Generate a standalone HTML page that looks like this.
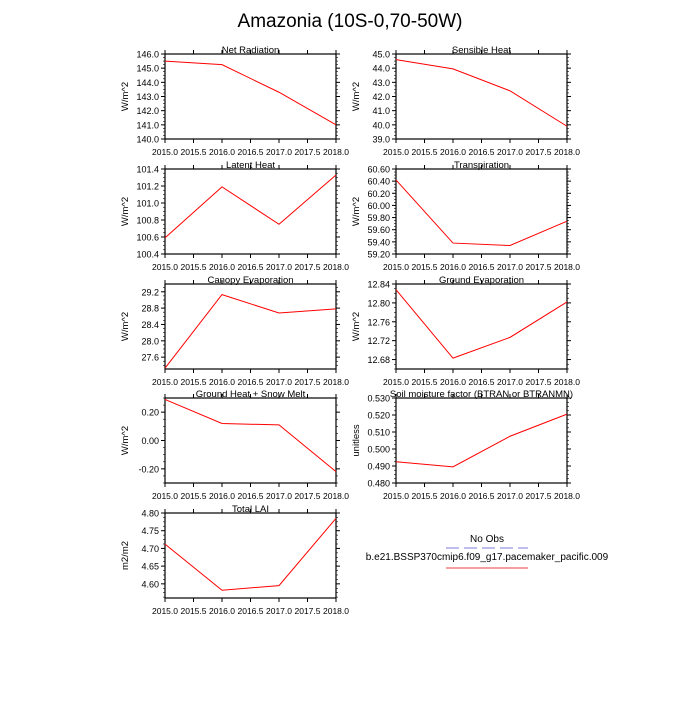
<!DOCTYPE html>
<html><head><meta charset="utf-8"><style>
body{margin:0;background:#fff;width:700px;height:700px;overflow:hidden}
svg{font-family:"Liberation Sans",sans-serif}
</style></head><body>
<svg id="c" width="700" height="700">
<text x="350" y="27" text-anchor="middle" font-size="19">Amazonia (10S-0,70-50W)</text>
<g>
<text x="487" y="542" text-anchor="middle" font-size="10">No Obs</text>
<line x1="446" y1="548" x2="528" y2="548" stroke="#a8a8e8" stroke-width="1.5" stroke-dasharray="13,5"/>
<text x="487" y="560" text-anchor="middle" font-size="10">b.e21.BSSP370cmip6.f09_g17.pacemaker_pacific.009</text>
<line x1="446" y1="568" x2="528" y2="568" stroke="#f08080" stroke-width="1.5"/>
</g>
</svg>
<script>
const years=[2015,2016,2017,2018];
const xTicks=[2015.0,2015.5,2016.0,2016.5,2017.0,2017.5,2018.0];
const netRad=[145.5,145.25,143.3,141.0];
const sensible=[44.6,43.95,42.4,39.9];
const latent=[100.59,101.19,100.75,101.33];
const transp=[60.42,59.38,59.34,59.74];
const canopy=[27.33,29.13,28.68,28.78];
const groundEvap=[12.828,12.683,12.727,12.802];
const groundHeat=[0.29,0.12,0.11,-0.22];
const btran=[0.4925,0.4895,0.5075,0.5205];
const lai=[4.712,4.582,4.595,4.785];
const panels=[
 {t:"Net Radiation",u:"W/m^2",v:netRad,y0:140,y1:146,ticks:[140,141,142,143,144,145,146],d:1,x:165,y:54},
 {t:"Sensible Heat",u:"W/m^2",v:sensible,y0:39,y1:45,ticks:[39,40,41,42,43,44,45],d:1,x:396,y:54},
 {t:"Latent Heat",u:"W/m^2",v:latent,y0:100.4,y1:101.4,ticks:[100.4,100.6,100.8,101.0,101.2,101.4],d:1,x:165,y:169},
 {t:"Transpiration",u:"W/m^2",v:transp,y0:59.2,y1:60.6,ticks:[59.2,59.4,59.6,59.8,60.0,60.2,60.4,60.6],d:2,x:396,y:169},
 {t:"Canopy Evaporation",u:"W/m^2",v:canopy,y0:27.31,y1:29.39,ticks:[27.6,28.0,28.4,28.8,29.2],d:1,x:165,y:284},
 {t:"Ground Evaporation",u:"W/m^2",v:groundEvap,y0:12.66,y1:12.84,ticks:[12.68,12.72,12.76,12.80,12.84],d:2,x:396,y:284},
 {t:"Ground Heat + Snow Melt",u:"W/m^2",v:groundHeat,y0:-0.30,y1:0.30,ticks:[-0.2,0,0.2],d:2,x:165,y:398},
 {t:"Soil moisture factor (BTRAN or BTRANMN)",u:"unitless",v:btran,y0:0.48,y1:0.53,ticks:[0.48,0.49,0.50,0.51,0.52,0.53],d:3,x:396,y:398},
 {t:"Total LAI",u:"m2/m2",v:lai,y0:4.56,y1:4.80,ticks:[4.60,4.65,4.70,4.75,4.80],d:2,x:165,y:513}
];
const NS="http://www.w3.org/2000/svg";
const svg=document.getElementById('c');
function mk(tag,attrs,parent){const e=document.createElementNS(NS,tag);for(const k in attrs)e.setAttribute(k,attrs[k]);parent.appendChild(e);return e;}
const W=171,H=85,TL=4,ML=2;
panels.forEach((p,i)=>{
 const g=mk('g',{},svg);
 
 
 const sx=v=>p.x+(v-2015)/3*W;
 const sy=v=>p.y+H-(v-p.y0)/(p.y1-p.y0)*H;
 xTicks.forEach(t=>{const X=sx(t);
  mk('line',{x1:X,x2:X,y1:p.y+H,y2:p.y+H+TL,stroke:'#000','stroke-width':1},g);
  mk('line',{x1:X,x2:X,y1:p.y,y2:p.y-TL,stroke:'#000','stroke-width':1},g);
  const lt=mk('text',{x:X,y:p.y+H+16,'text-anchor':'middle','font-size':'8.5'},g);lt.textContent=t.toFixed(1);
  
  
 });
 const tt=mk('text',{x:p.x+W/2,y:p.y-1,'text-anchor':'middle','font-size':'9.5'},g);tt.textContent=p.t;
 
 
 const yl=mk('text',{x:0,y:0,'text-anchor':'middle','font-size':'9.5',transform:`translate(${p.x-37},${p.y+H/2}) rotate(-90)`},g);yl.textContent=p.u;
 
 
 const step=p.ticks.length>1?p.ticks[1]-p.ticks[0]:1;
 for(let t=p.ticks[0]-step;t<=p.y1+1e-9;t+=step/4){if(t<p.y0-1e-9)continue;const Y=sy(t);
  mk('line',{x1:p.x,x2:p.x-ML,y1:Y,y2:Y,stroke:'#000','stroke-width':0.6},g);
  mk('line',{x1:p.x+W,x2:p.x+W+ML,y1:Y,y2:Y,stroke:'#000','stroke-width':0.6},g);}
 p.ticks.forEach(t=>{const Y=sy(t);
  mk('line',{x1:p.x,x2:p.x-TL,y1:Y,y2:Y,stroke:'#000','stroke-width':1},g);
  mk('line',{x1:p.x+W,x2:p.x+W+TL,y1:Y,y2:Y,stroke:'#000','stroke-width':1},g);
  const lt=mk('text',{x:p.x-6,y:Y+3.5,'text-anchor':'end','font-size':'9'},g);lt.textContent=t.toFixed(p.d);
  
  
 });
 const fr=mk('rect',{x:p.x,y:p.y,width:W,height:H,fill:'none',stroke:'#000','stroke-width':1.2},g);
 
 
 const pts=years.map((yr,j)=>sx(yr)+','+sy(p.v[j])).join(' ');
 const ln=mk('polyline',{points:pts,fill:'none',stroke:'#ff0000','stroke-width':1},g);
 
 
});
</script>
</body></html>
